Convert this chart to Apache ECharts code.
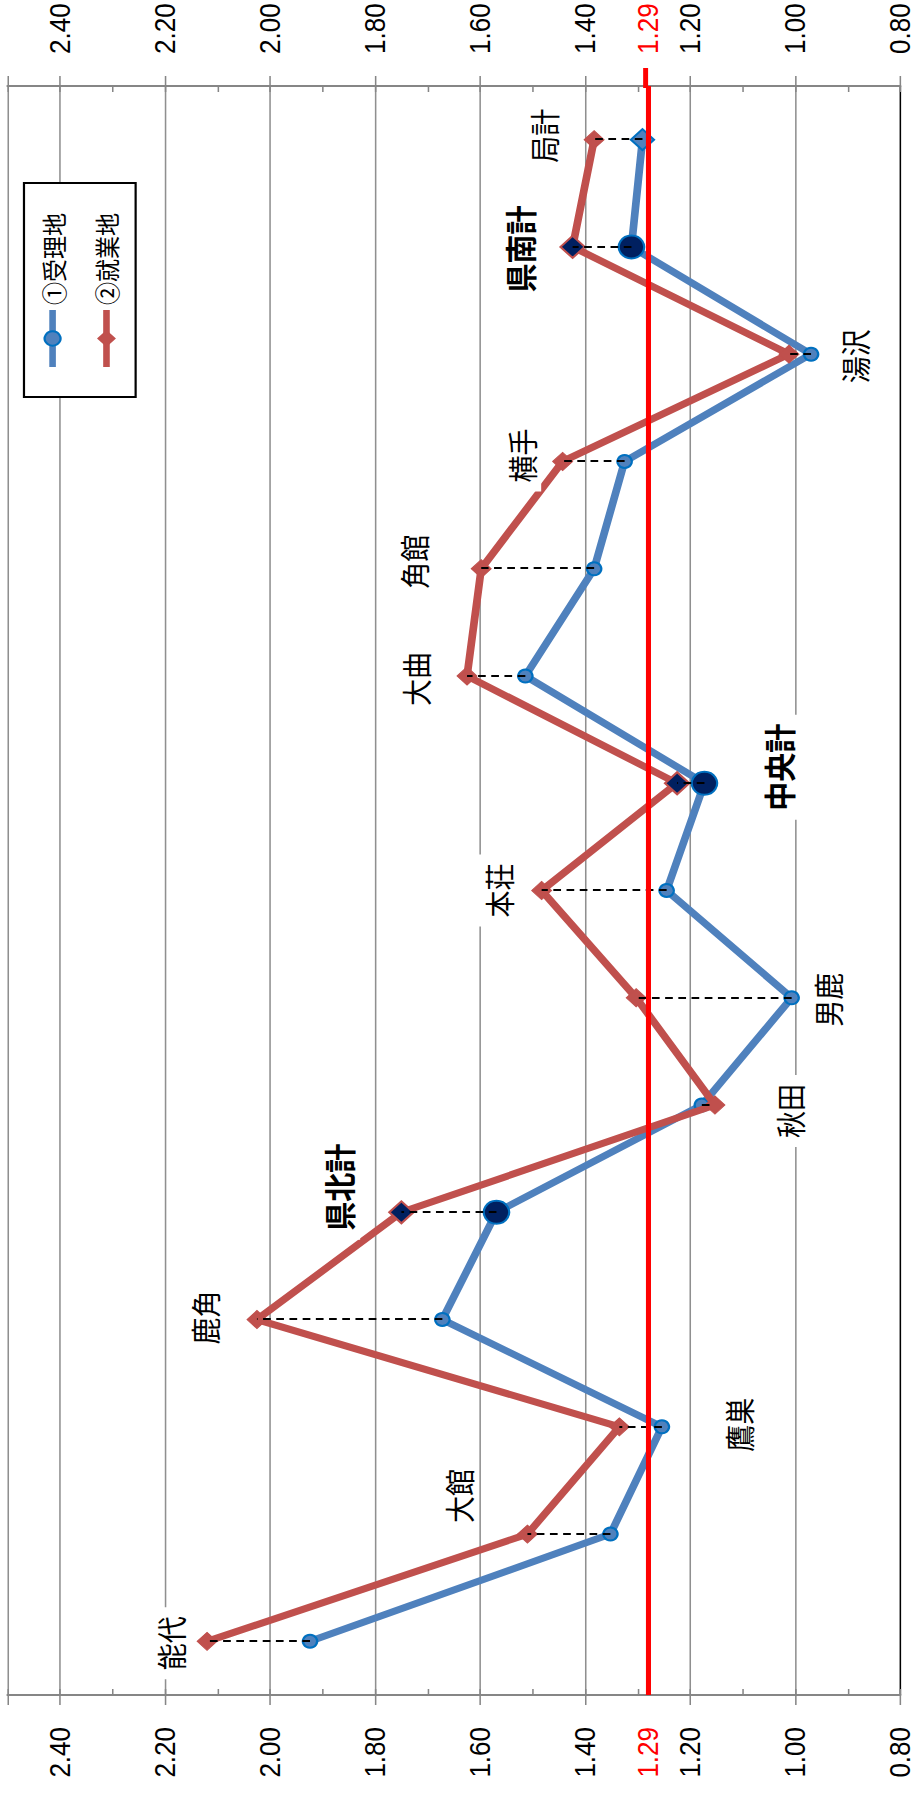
<!DOCTYPE html>
<html>
<head>
<meta charset="utf-8">
<script src="https://cdn.jsdelivr.net/npm/echarts@6/dist/echarts.min.js"></script>
<style>
html, body { margin:0; padding:0; background:#fff; overflow:hidden; width:916px; height:1795px; }
#chart { position:absolute; left:0; top:0; width:1795px; height:832.727px;
  transform-origin:0 0; transform: translateY(1795px) rotate(-90deg) scaleY(1.1); }
</style>
</head>
<body>
<div id="chart"></div>
<script>
// ---- data ----
const CATEGORIES = ['能代', '大館', '鷹巣', '鹿角', '県北計', '秋田', '男鹿', '本荘', '中央計', '大曲', '角館', '横手', '湯沢', '県南計', '局計'];
const JURI   = [1.924, 1.352, 1.254, 1.672, 1.569, 1.178, 1.007, 1.245, 1.173, 1.514, 1.383, 1.325, 0.970, 1.312, 1.291]; // ①受理地
const SHUGYO = [2.120, 1.510, 1.335, 2.025, 1.750, 1.153, 1.303, 1.483, 1.225, 1.625, 1.598, 1.443, 1.012, 1.424, 1.383]; // ②就業地
const SERIES_NAMES = ['①受理地', '②就業地'];
const REF_VALUE = 1.285;
const REF_LABEL = '1.29';
const AXIS_MIN = 0.8, AXIS_MAX = 2.5, AXIS_STEP = 0.2, MINOR_STEP = 0.1;
const TOTALS = ['県北計', '中央計', '県南計'];
const GRAND_TOTAL = '局計';

// ---- layout / style (not data) ----
const LABEL_OFFSET = {
  '能代': [-2, -34], '大館': [38, -63], '鷹巣': [2, 108], '鹿角': [2, -48], '県北計': [25, -57],
  '秋田': [-6, 67], '男鹿': [-2, 173], '本荘': [0, -40], '中央計': [16, 92], '大曲': [-3, -47],
  '角館': [7, -62], '横手': [6, -38], '湯沢': [-2, 59], '県南計': [-2, -48], '局計': [4, -47]
};
const CJK = '"Noto Sans CJK JP", sans-serif';
const NUM = '"Liberation Sans", Arial, sans-serif';
const BLUE = '#4F81BD', BLUE_EDGE = '#0070C0', RED = '#C0504D', NAVY = '#002060', GRAY = '#868686';
const LEGEND_TEXT = { fontSize: 23, fontFamily: CJK, color: '#000' };
const GRID = { left: 100, right: 86, top: 6.8, bottom: 14.5 };

const chartDom = document.getElementById('chart');
const chart = echarts.init(chartDom, null, { renderer: 'svg' });

function blueItem(cat, v) {
  const item = { value: v };
  if (TOTALS.includes(cat)) {
    item.symbolSize = 23;
    item.itemStyle = { color: NAVY, borderColor: BLUE_EDGE, borderWidth: 2 };
  } else if (cat === GRAND_TOTAL) {
    item.symbol = 'diamond';
    item.symbolSize = 21;
  }
  return item;
}
function redItem(cat, v) {
  const isTotal = TOTALS.includes(cat);
  const item = {
    value: v,
    label: {
      show: true, position: 'inside', formatter: cat, offset: LABEL_OFFSET[cat],
      fontSize: isTotal ? 29 : 27, fontWeight: isTotal ? 'bold' : 'normal',
      color: '#000', fontFamily: CJK, backgroundColor: '#fff', padding: [5, 9]
    }
  };
  if (isTotal) {
    item.symbolSize = 22;
    item.itemStyle = { color: NAVY, borderColor: RED, borderWidth: 2 };
  }
  return item;
}

const nMajor = Math.round((AXIS_MAX - AXIS_MIN) / AXIS_STEP) + 2;
const splitColors = [];
for (let i = 0; i < nMajor; i++) splitColors.push(i === 0 || i === nMajor - 1 ? '#000' : '#8f8f8f');

const labelFmt = v => (Math.abs(v - AXIS_MAX) < 1e-9 ? '' : v.toFixed(2));
function mainAxis(pos, split) {
  return {
    type: 'value', min: AXIS_MIN, max: AXIS_MAX, interval: AXIS_STEP, position: pos,
    axisLine: { show: true, onZero: false, lineStyle: { color: GRAY, width: 2 } },
    axisTick: { show: true, inside: false, length: 10, lineStyle: { color: GRAY, width: 1.4 } },
    axisLabel: { show: true, margin: 32, fontSize: 26, color: '#000', fontFamily: NUM, formatter: labelFmt },
    splitLine: { show: split, lineStyle: { color: splitColors, width: 1.4 } },
    minorTick: { show: false }
  };
}
function minorAxis(pos) {
  return {
    type: 'value', min: AXIS_MIN, max: AXIS_MAX, interval: MINOR_STEP, position: pos,
    axisLine: { show: false, onZero: false },
    axisTick: { show: true, inside: true, length: 6, lineStyle: { color: GRAY, width: 1.4 } },
    axisLabel: { show: false }, splitLine: { show: false }
  };
}

const option = {
  animation: false,
  backgroundColor: '#fff',
  grid: Object.assign({ containLabel: false }, GRID),
  legend: {
    data: SERIES_NAMES.map(n => ({ name: n, textStyle: LEGEND_TEXT })),
    orient: 'vertical', left: 1398, top: 21.8,
    itemWidth: 57, itemHeight: 18, itemGap: 26,
    padding: [14.5, 30, 15, 27], borderColor: '#000', borderWidth: 2, backgroundColor: '#fff',
    textStyle: LEGEND_TEXT,
    lineStyle: { width: 6 },
    z: 10
  },
  xAxis: { type: 'category', data: CATEGORIES, boundaryGap: true, show: false },
  yAxis: [mainAxis('left', true), mainAxis('right', false), minorAxis('left'), minorAxis('right')],
  series: [
    {
      name: SERIES_NAMES[0], type: 'line', z: 3, showAllSymbol: true,
      symbol: 'circle', symbolSize: 13,
      lineStyle: { color: BLUE, width: 7 },
      itemStyle: { color: BLUE, borderColor: BLUE_EDGE, borderWidth: 2 },
      emphasis: { disabled: true },
      data: CATEGORIES.map((c, i) => blueItem(c, JURI[i]))
    },
    {
      name: SERIES_NAMES[1], type: 'line', z: 4, showAllSymbol: true,
      symbol: 'diamond', symbolSize: 18,
      lineStyle: { color: RED, width: 7 },
      itemStyle: { color: RED, borderColor: RED, borderWidth: 1 },
      emphasis: { disabled: true },
      data: CATEGORIES.map((c, i) => redItem(c, SHUGYO[i]))
    },
    {
      name: 'connectors', type: 'line', z: 5, data: [], silent: true,
      markLine: {
        silent: true, symbol: ['none', 'none'], label: { show: false }, emphasis: { disabled: true },
        lineStyle: { color: '#000', type: [7, 5], width: 2 },
        data: CATEGORIES.map((c, i) => [{ coord: [c, JURI[i]] }, { coord: [c, SHUGYO[i]] }])
      }
    },
    {
      name: 'reference', type: 'line', z: 6, data: [], silent: true,
      markLine: {
        silent: true, symbol: ['none', 'none'], emphasis: { disabled: true },
        lineStyle: { color: '#FF0000', type: 'solid', width: 4.5 },
        label: { show: true, formatter: REF_LABEL, color: '#FF0000', fontSize: 26, fontFamily: NUM, distance: 32 },
        data: [
          { yAxis: REF_VALUE, label: { position: 'start' } },
          { yAxis: REF_VALUE, label: { position: 'end' } }
        ]
      }
    }
  ]
};
chart.setOption(option);

// short stub of the reference line poking past the top axis, placed through the value scale
const refPx = chart.convertToPixel({ yAxisIndex: 0 }, REF_VALUE);
const axisEnd = chartDom.clientWidth - GRID.right;
chart.setOption({
  graphic: [{
    type: 'line', silent: true, z: 20,
    shape: { x1: axisEnd - 2, y1: refPx, x2: axisEnd + 18, y2: refPx },
    style: { stroke: '#FF0000', lineWidth: 4.5 }
  }]
});
</script>
</body>
</html>
